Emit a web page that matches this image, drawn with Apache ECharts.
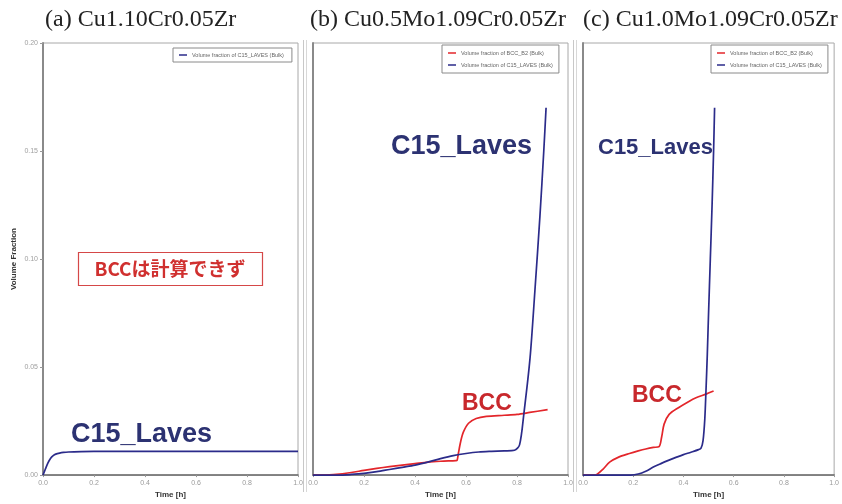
<!DOCTYPE html>
<html>
<head>
<meta charset="utf-8">
<script src="https://cdn.jsdelivr.net/npm/echarts@6/dist/echarts.min.js"></script>
<style>
  html, body { margin: 0; padding: 0; background: #fff; }
  #chart { width: 842px; height: 504px; }
</style>
</head>
<body>
<div id="chart"></div>
<script>
// Panel titles (alloy compositions)
const panelTitles = ['(a) Cu1.10Cr0.05Zr', '(b) Cu0.5Mo1.09Cr0.05Zr', '(c) Cu1.0Mo1.09Cr0.05Zr'];
const nameBCC = 'Volume fraction of BCC_B2 (Bulk)';
const nameC15 = 'Volume fraction of C15_LAVES (Bulk)';

// Axis ticks
const xTicks = [0.0, 0.2, 0.4, 0.6, 0.8, 1.0];
const yTicks = [0.00, 0.05, 0.10, 0.15, 0.20];

// (a) Cu1.10Cr0.05Zr : C15 Laves only
const timeA_C15 = [0, 0.005, 0.01, 0.02, 0.03, 0.04, 0.05, 0.065, 0.08, 0.1, 0.15, 0.2, 0.3, 0.5, 0.7, 1.0];
const fracA_C15 = [0, 0.0015, 0.003, 0.0058, 0.0078, 0.0090, 0.0097, 0.0102, 0.0105, 0.0107, 0.0109, 0.0110, 0.0110, 0.0110, 0.0110, 0.0110];

// (b) Cu0.5Mo1.09Cr0.05Zr
const timeB_BCC = [0, 0.05, 0.08, 0.15, 0.2, 0.25, 0.3, 0.35, 0.4, 0.45, 0.5, 0.56, 0.565, 0.57, 0.58, 0.59, 0.61, 0.64, 0.68, 0.75, 0.8, 0.85, 0.92];
const fracB_BCC = [0, 0, 0.0002, 0.0012, 0.0022, 0.0031, 0.0039, 0.0046, 0.0053, 0.0060, 0.0064, 0.0067, 0.0068, 0.0100, 0.0160, 0.0200, 0.0240, 0.0262, 0.0272, 0.0277, 0.0281, 0.0290, 0.0303];
const timeB_C15 = [0, 0.1, 0.15, 0.2, 0.25, 0.3, 0.35, 0.4, 0.45, 0.5, 0.55, 0.6, 0.65, 0.7, 0.75, 0.79, 0.81, 0.827, 0.851, 0.87, 0.89, 0.905, 0.914];
const fracB_C15 = [0, 0, 0.0003, 0.0008, 0.0016, 0.0026, 0.0036, 0.0046, 0.0060, 0.0076, 0.0090, 0.0100, 0.0107, 0.0110, 0.0112, 0.0115, 0.0140, 0.0285, 0.0540, 0.0850, 0.1200, 0.1500, 0.1700];

// (c) Cu1.0Mo1.09Cr0.05Zr
const timeC_BCC = [0, 0.04, 0.055, 0.08, 0.106, 0.14, 0.185, 0.22, 0.25, 0.28, 0.303, 0.313, 0.323, 0.343, 0.38, 0.42, 0.45, 0.49, 0.52];
const fracC_BCC = [0, 0, 0.0003, 0.0028, 0.0060, 0.0082, 0.0100, 0.0112, 0.0121, 0.0128, 0.0132, 0.0175, 0.0236, 0.0281, 0.0312, 0.0340, 0.0358, 0.0375, 0.0389];
const timeC_C15 = [0, 0.19, 0.22, 0.25, 0.28, 0.31, 0.34, 0.37, 0.40, 0.43, 0.46, 0.47, 0.478, 0.485, 0.49, 0.495, 0.50, 0.507, 0.514, 0.52, 0.524];
const fracC_C15 = [0, 0, 0.0005, 0.0018, 0.0037, 0.0053, 0.0068, 0.0082, 0.0095, 0.0106, 0.0118, 0.0125, 0.0160, 0.0260, 0.0400, 0.0560, 0.0750, 0.1000, 0.1250, 0.1500, 0.1700];

const blue = '#2b2b8a';
const red = '#e3262b';
const navyText = '#2c3272';
const redText = '#c8282c';

const zip = (xs, ys) => xs.map((x, i) => [x, ys[i]]);

const gridBoxes = [
  { left: 43, top: 43, width: 255, height: 435 },
  { left: 313, top: 43, width: 255, height: 435 },
  { left: 583, top: 43, width: 254, height: 435 }
];

const grids = gridBoxes.map(g => ({
  left: g.left, top: g.top, width: g.width, height: g.height,
  show: true, borderColor: '#a8a8a8', borderWidth: 1, backgroundColor: '#fff'
}));

const xAxes = gridBoxes.map((g, i) => ({
  type: 'value', gridIndex: i, min: xTicks[0], max: xTicks[xTicks.length - 1], interval: 0.2,
  name: 'Time [h]', nameLocation: 'middle', nameGap: 14,
  nameTextStyle: { fontFamily: 'Liberation Sans', fontWeight: 'bold', fontSize: 8, color: '#333' },
  axisLine: { lineStyle: { color: '#6a6a6a', width: 1.5 } },
  axisTick: { show: true, length: 2, lineStyle: { color: '#999' } },
  axisLabel: { fontSize: 7, color: '#9a9a9a', margin: 4, fontFamily: 'Liberation Sans',
    formatter: v => v.toFixed(1) },
  splitLine: { show: false }
}));

const yAxes = gridBoxes.map((g, i) => ({
  type: 'value', gridIndex: i, min: yTicks[0], max: yTicks[yTicks.length - 1], interval: 0.05,
  name: i === 0 ? 'Volume Fraction' : '', nameLocation: 'middle', nameGap: 25,
  nameTextStyle: { fontFamily: 'Liberation Sans', fontWeight: 'bold', fontSize: 8, color: '#333' },
  axisLine: { show: true, lineStyle: { color: '#8a8a8a', width: 2 } },
  axisTick: { show: i === 0, length: 3, inside: false, lineStyle: { color: '#999' } },
  axisLabel: { show: i === 0, fontSize: 7, color: '#a0a0a0', margin: 5, fontFamily: 'Liberation Sans',
    formatter: v => v.toFixed(2) },
  splitLine: { show: false }
}));

const lineSeries = (name, idx, data, color) => ({
  name: name, type: 'line', xAxisIndex: idx, yAxisIndex: idx,
  data: data, showSymbol: false, smooth: 0.3,
  lineStyle: { color: color, width: 1.7 }, itemStyle: { color: color },
  z: color === blue ? 3 : 2
});

const series = [
  lineSeries(nameC15, 0, zip(timeA_C15, fracA_C15), blue),
  lineSeries(nameBCC, 1, zip(timeB_BCC, fracB_BCC), red),
  lineSeries(nameC15, 1, zip(timeB_C15, fracB_C15), blue),
  lineSeries(nameBCC, 2, zip(timeC_BCC, fracC_BCC), red),
  lineSeries(nameC15, 2, zip(timeC_C15, fracC_C15), blue)
];

const legendBase = {
  orient: 'vertical', icon: 'rect', itemWidth: 8, itemHeight: 1.5, itemGap: 6,
  padding: [5, 6, 5, 6], borderColor: '#8a8a8a', borderWidth: 1, backgroundColor: '#fff',
  selectedMode: false,
  textStyle: { fontSize: 5.5, color: '#666', fontFamily: 'Liberation Sans' }
};

const legends = [
  Object.assign({}, legendBase, { left: 173, top: 48, padding: [4, 8, 4, 6], data: [nameC15] }),
  Object.assign({}, legendBase, { left: 442, top: 45, data: [nameBCC, nameC15] }),
  Object.assign({}, legendBase, { left: 711, top: 45, data: [nameBCC, nameC15] })
];

const titleLefts = [40, 305, 578];
const titles = panelTitles.map((t, i) => ({
  text: t, left: titleLefts[i], top: 3,
  textStyle: { fontFamily: 'Liberation Serif', fontWeight: 'normal', fontSize: 24, color: '#222' }
}));

const bigSans = 'bold 27px "Liberation Sans", Arial, sans-serif';
const midSans = 'bold 22px "Liberation Sans", Arial, sans-serif';
const graphics = [
  { type: 'text', left: 71, top: 421, style: { text: 'C15_Laves', font: bigSans, fill: navyText } },
  { type: 'text', left: 391, top: 133, style: { text: 'C15_Laves', font: bigSans, fill: navyText } },
  { type: 'text', left: 598, top: 137, style: { text: 'C15_Laves', font: midSans, fill: navyText } },
  { type: 'text', left: 462, top: 392, style: { text: 'BCC', font: 'bold 23px "Liberation Sans", Arial, sans-serif', fill: redText } },
  { type: 'text', left: 632, top: 384, style: { text: 'BCC', font: 'bold 23px "Liberation Sans", Arial, sans-serif', fill: redText } },
  { type: 'rect', shape: { x: 78.5, y: 252.5, width: 184, height: 33 },
    style: { fill: '#fff', stroke: '#d54848', lineWidth: 1.2 }, z: 10 },
  { type: 'text', x: 170, y: 269, z: 11,
    style: { text: 'BCCは計算できず', font: 'bold 19px "Noto Sans CJK JP", sans-serif', fill: '#d0302f',
      textAlign: 'center', textVerticalAlign: 'middle' } },
  // frame edges between the panels
  { type: 'line', shape: { x1: 303.5, y1: 40, x2: 303.5, y2: 492 }, style: { stroke: '#c8c8c8', lineWidth: 1 } },
  { type: 'line', shape: { x1: 306.5, y1: 40, x2: 306.5, y2: 492 }, style: { stroke: '#d8d8d8', lineWidth: 1 } },
  { type: 'line', shape: { x1: 573.5, y1: 40, x2: 573.5, y2: 492 }, style: { stroke: '#c8c8c8', lineWidth: 1 } },
  { type: 'line', shape: { x1: 576.5, y1: 40, x2: 576.5, y2: 492 }, style: { stroke: '#d8d8d8', lineWidth: 1 } }
];

const chart = echarts.init(document.getElementById('chart'), null, { renderer: 'canvas' });
chart.setOption({
  backgroundColor: '#fff',
  animation: false,
  title: titles,
  legend: legends,
  grid: grids,
  xAxis: xAxes,
  yAxis: yAxes,
  series: series,
  graphic: graphics
});
</script>
</body>
</html>
